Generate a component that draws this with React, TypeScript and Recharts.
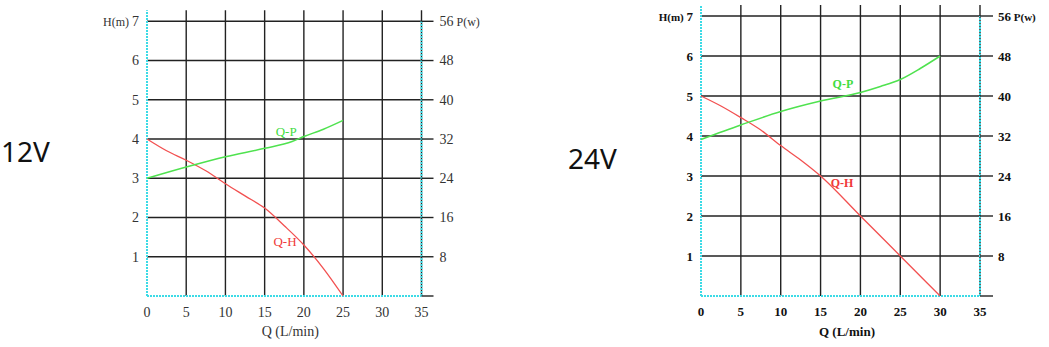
import { LineChart, Line, XAxis, YAxis, CartesianGrid, ReferenceLine, ReferenceDot, Label } from 'recharts';

const qTicks = [0, 5, 10, 15, 20, 25, 30, 35];
const gridQ = [5, 10, 15, 20, 25, 30, 35];
const hTicks = [1, 2, 3, 4, 5, 6, 7];
const pTicks = [0, 8, 16, 24, 32, 40, 48, 56];

// 12V curves
const qh12Q = [0, 2.5, 5, 7.5, 10, 12.5, 15, 17.5, 20, 22.5, 25];
const qh12H = [4, 3.7, 3.46, 3.19, 2.86, 2.55, 2.24, 1.79, 1.3, 0.7, 0];
const qp12Q = [0, 5, 10, 15, 18.5, 20, 22.5, 25];
const qp12P = [24, 26.3, 28.4, 30.1, 31.5, 32.5, 34, 35.8];

// 24V curves
const qh24Q = [0, 2.5, 5, 7.5, 10, 12.5, 15, 20, 25, 30];
const qh24H = [5, 4.75, 4.46, 4.15, 3.76, 3.4, 3, 2, 1, 0];
const qp24Q = [0, 5, 10, 15, 20, 22.5, 25, 27.5, 30];
const qp24P = [31.3, 34.2, 36.9, 39, 40.7, 41.9, 43.3, 45.5, 48];

const CYAN = '#3cdbe6';
const GRID = '#222';
const RED = '#f25050';
const GREEN = '#4fe24f';

const toRows = (qs: number[], vs: number[], key: string) => qs.map((q, i) => ({ q, [key]: vs[i] }));

interface ChartProps {
  left: number;
  width: number;
  margin: { top: number; right: number; bottom: number; left: number };
  hMax: number;
  pMax: number;
  qh: { q: number; h: number }[];
  qp: { q: number; p: number }[];
  bold: boolean;
  fontSize: number;
  tickLen: number;
  tickGap: number;
  labelDx: number;
  qpAt: [number, number];
  qhAt: [number, number];
}

function PumpChart(c: ChartProps) {
  const font = 'Liberation Serif';
  const weight = c.bold ? 'bold' : 'normal';
  const color = c.bold ? '#111' : '#333';

  const leftTick = (p: any) => (
    <text x={p.x} y={p.y} dy="0.35em" textAnchor="end" fontFamily={font} fontWeight={weight} fontSize={c.fontSize} fill={color}>
      {p.payload.value === 7 && <tspan fontSize={c.fontSize - 2}>H(m) </tspan>}
      <tspan>{p.payload.value}</tspan>
    </text>
  );

  const rightTick = (p: any) => (
    <text x={p.x} y={p.y} dy="0.35em" textAnchor="start" fontFamily={font} fontWeight={weight} fontSize={c.fontSize} fill={color}>
      {p.payload.value === 0 ? '' : p.payload.value}
      {p.payload.value === 56 && <tspan fontSize={c.fontSize - 2}> P(w)</tspan>}
    </text>
  );

  const seriesLabel = (text: string, fill: string) => (p: any) => (
    <text x={p.cx} y={p.cy} dy="0.35em" textAnchor="middle" fontFamily={font} fontWeight={weight} fontSize={c.fontSize - 1} fill={fill}>
      {text}
    </text>
  );

  return (
    <div style={{ position: 'absolute', left: c.left, top: 0 }}>
      <LineChart width={c.width} height={347} margin={c.margin}>
        <CartesianGrid
          yAxisId="h"
          stroke={GRID}
          strokeWidth={1.4}
          horizontalValues={hTicks}
          verticalValues={gridQ}
        />
        <XAxis
          dataKey="q"
          type="number"
          domain={[0, 35]}
          ticks={qTicks}
          axisLine={false}
          tickLine={false}
          tickMargin={5}
          height={45}
          tick={{ fontFamily: font, fontWeight: weight, fontSize: c.fontSize, fill: color }}
        >
          <Label
            value="Q (L/min)"
            position="insideBottom"
            dx={c.labelDx}
            style={{ fontFamily: font, fontWeight: weight, fontSize: c.fontSize, fill: color }}
          />
        </XAxis>
        <YAxis
          yAxisId="h"
          type="number"
          domain={[0, c.hMax]}
          ticks={hTicks}
          axisLine={false}
          tickLine={false}
          width={40}
          tick={leftTick}
        />
        <YAxis
          yAxisId="p"
          orientation="right"
          type="number"
          domain={[0, c.pMax]}
          ticks={pTicks}
          axisLine={false}
          tickSize={c.tickLen}
          tickMargin={c.tickGap}
          tickLine={{ stroke: GRID, strokeWidth: 1.4 }}
          width={60}
          tick={rightTick}
        />
        <ReferenceLine yAxisId="h" x={0} stroke={CYAN} strokeWidth={2} strokeDasharray="2 1" />
        <ReferenceLine yAxisId="h" y={0} stroke={CYAN} strokeWidth={2} strokeDasharray="2 1" />
        <ReferenceLine
          yAxisId="h"
          segment={[{ x: 35, y: 0 }, { x: 35, y: 7 }]}
          stroke={CYAN}
          strokeWidth={2}
          strokeDasharray="2 1"
        />
        <Line
          yAxisId="h"
          data={c.qh}
          dataKey="h"
          type="monotone"
          stroke={RED}
          strokeWidth={1.3}
          dot={false}
          isAnimationActive={false}
        />
        <Line
          yAxisId="p"
          data={c.qp}
          dataKey="p"
          type="monotone"
          stroke={GREEN}
          strokeWidth={1.5}
          dot={false}
          isAnimationActive={false}
        />
        <ReferenceDot yAxisId="h" x={c.qpAt[0]} y={c.qpAt[1]} r={0} shape={seriesLabel('Q-P', '#3fdc3f')} />
        <ReferenceDot yAxisId="h" x={c.qhAt[0]} y={c.qhAt[1]} r={0} shape={seriesLabel('Q-H', '#f03a3a')} />
      </LineChart>
    </div>
  );
}

function VoltLabel({ left, baseline, text }: { left: number; baseline: number; text: string }) {
  return (
    <svg width={80} height={60} style={{ position: 'absolute', left, top: baseline - 40 }}>
      <text x={0} y={40} fontFamily="Noto Sans" fontSize={28} fill="#111">
        {text}
      </text>
    </svg>
  );
}

export default function App() {
  return (
    <div style={{ position: 'absolute', left: 0, top: 0, width: 1049, height: 347, background: '#fff', overflow: 'hidden' }}>
      <VoltLabel left={1} baseline={161.5} text="12V" />
      <VoltLabel left={568} baseline={169} text="24V" />
      <PumpChart
        left={0}
        width={520}
        margin={{ top: 10.3, right: 38.5, bottom: 6, left: 107 }}
        hMax={7.28}
        pMax={58.24}
        qh={toRows(qh12Q, qh12H, 'h') as any}
        qp={toRows(qp12Q, qp12P, 'p') as any}
        bold={false}
        fontSize={14}
        tickLen={12}
        tickGap={6}
        labelDx={6}
        qpAt={[17.75, 4.2]}
        qhAt={[17.6, 1.4]}
      />
      <PumpChart
        left={560}
        width={489}
        margin={{ top: 5, right: 9, bottom: 6, left: 101 }}
        hMax={7.275}
        pMax={58.2}
        qh={toRows(qh24Q, qh24H, 'h') as any}
        qp={toRows(qp24Q, qp24P, 'p') as any}
        bold={true}
        fontSize={13}
        tickLen={13}
        tickGap={5}
        labelDx={6.5}
        qpAt={[17.8, 5.3]}
        qhAt={[17.7, 2.83]}
      />
    </div>
  );
}
